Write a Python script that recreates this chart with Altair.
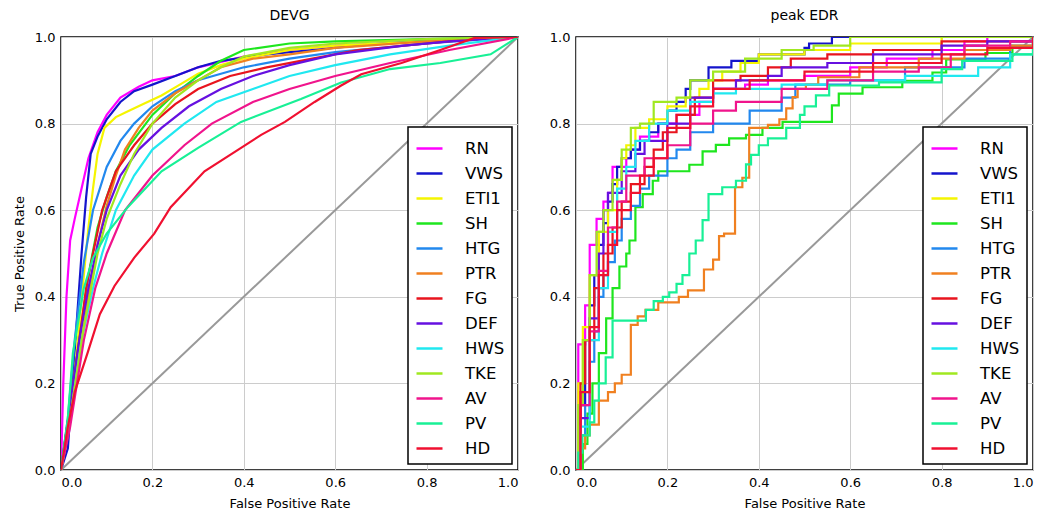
import altair as alt
import pandas as pd

SERIES = ["RN", "VWS", "ETI1", "SH", "HTG", "PTR", "FG", "DEF", "HWS", "TKE", "AV", "PV", "HD"]
COLORS = ["#ff00ff", "#1414cc", "#f5f500", "#1ee61e", "#2288ee", "#f08020", "#e8141e",
          "#6610e0", "#20e8f0", "#a0e820", "#f0148c", "#18f096", "#f01030"]
TICKS = [0.0, 0.2, 0.4, 0.6, 0.8, 1.0]

# ---- DEVG panel: (false positive rate, true positive rate) ----
DEVG_RN = [(0, 0), (0.005, 0.2), (0.012, 0.4), (0.02, 0.53), (0.03, 0.58), (0.045, 0.65), (0.06, 0.72), (0.08, 0.78), (0.1, 0.82), (0.13, 0.86), (0.17, 0.885), (0.2, 0.9), (0.25, 0.91), (0.3, 0.93), (0.4, 0.955), (0.5, 0.97), (0.6, 0.98), (0.7, 0.985), (0.8, 0.99), (0.9, 0.995), (1, 1)]
DEVG_VWS = [(0, 0), (0.015, 0.05), (0.025, 0.2), (0.035, 0.35), (0.045, 0.5), (0.055, 0.63), (0.065, 0.73), (0.08, 0.77), (0.1, 0.81), (0.13, 0.85), (0.16, 0.875), (0.2, 0.89), (0.25, 0.91), (0.3, 0.93), (0.35, 0.945), (0.45, 0.96), (0.55, 0.97), (0.7, 0.985), (0.85, 0.995), (1, 1)]
DEVG_ETI1 = [(0, 0), (0.02, 0.12), (0.035, 0.28), (0.05, 0.45), (0.06, 0.56), (0.07, 0.65), (0.08, 0.73), (0.095, 0.79), (0.12, 0.815), (0.15, 0.83), (0.18, 0.845), (0.22, 0.865), (0.26, 0.89), (0.3, 0.915), (0.35, 0.935), (0.4, 0.95), (0.5, 0.97), (0.6, 0.98), (0.8, 0.99), (1, 1)]
DEVG_SH = [(0, 0), (0.02, 0.15), (0.04, 0.3), (0.06, 0.45), (0.08, 0.56), (0.1, 0.63), (0.12, 0.69), (0.15, 0.75), (0.2, 0.82), (0.25, 0.87), (0.3, 0.91), (0.35, 0.945), (0.4, 0.97), (0.5, 0.985), (0.6, 0.99), (0.8, 0.995), (1, 1)]
DEVG_HTG = [(0, 0), (0.015, 0.12), (0.03, 0.3), (0.05, 0.48), (0.07, 0.6), (0.1, 0.7), (0.13, 0.76), (0.16, 0.8), (0.2, 0.84), (0.25, 0.875), (0.3, 0.9), (0.35, 0.915), (0.4, 0.93), (0.5, 0.95), (0.6, 0.965), (0.7, 0.975), (0.8, 0.985), (0.9, 0.993), (1, 1)]
DEVG_PTR = [(0, 0), (0.015, 0.08), (0.03, 0.2), (0.045, 0.3), (0.06, 0.4), (0.08, 0.52), (0.1, 0.61), (0.12, 0.68), (0.14, 0.74), (0.17, 0.79), (0.2, 0.83), (0.25, 0.87), (0.3, 0.9), (0.35, 0.93), (0.42, 0.95), (0.5, 0.96), (0.6, 0.975), (0.8, 0.99), (1, 1)]
DEVG_FG = [(0, 0), (0.02, 0.15), (0.04, 0.3), (0.055, 0.42), (0.07, 0.5), (0.09, 0.6), (0.12, 0.69), (0.16, 0.75), (0.2, 0.8), (0.25, 0.845), (0.3, 0.88), (0.37, 0.91), (0.45, 0.93), (0.55, 0.95), (0.65, 0.97), (0.8, 0.985), (0.9, 0.995), (1, 1)]
DEVG_DEF = [(0, 0), (0.02, 0.15), (0.04, 0.3), (0.06, 0.42), (0.08, 0.52), (0.1, 0.6), (0.13, 0.68), (0.17, 0.74), (0.22, 0.79), (0.28, 0.84), (0.35, 0.88), (0.42, 0.91), (0.5, 0.935), (0.6, 0.96), (0.75, 0.98), (0.85, 0.99), (1, 1)]
DEVG_HWS = [(0, 0), (0.02, 0.12), (0.045, 0.3), (0.07, 0.42), (0.09, 0.5), (0.12, 0.6), (0.16, 0.68), (0.2, 0.74), (0.27, 0.8), (0.34, 0.85), (0.42, 0.88), (0.5, 0.91), (0.6, 0.935), (0.72, 0.96), (0.85, 0.98), (1, 1)]
DEVG_TKE = [(0, 0), (0.02, 0.12), (0.05, 0.33), (0.08, 0.5), (0.1, 0.58), (0.13, 0.66), (0.16, 0.73), (0.2, 0.8), (0.25, 0.86), (0.3, 0.9), (0.35, 0.93), (0.4, 0.955), (0.5, 0.975), (0.6, 0.985), (0.8, 0.995), (1, 1)]
DEVG_AV = [(0, 0), (0.02, 0.1), (0.05, 0.3), (0.075, 0.42), (0.1, 0.5), (0.14, 0.6), (0.2, 0.68), (0.27, 0.75), (0.33, 0.8), (0.42, 0.85), (0.5, 0.88), (0.6, 0.91), (0.72, 0.94), (0.85, 0.97), (1, 1)]
DEVG_PV = [(0, 0), (0.015, 0.12), (0.026, 0.27), (0.05, 0.42), (0.07, 0.49), (0.1, 0.546), (0.146, 0.607), (0.22, 0.69), (0.3, 0.744), (0.394, 0.804), (0.525, 0.857), (0.613, 0.895), (0.72, 0.926), (0.83, 0.94), (0.94, 0.96), (1, 1)]
DEVG_HD = [(0, 0), (0.015, 0.1), (0.03, 0.18), (0.058, 0.27), (0.085, 0.36), (0.117, 0.425), (0.16, 0.49), (0.204, 0.546), (0.24, 0.607), (0.314, 0.69), (0.394, 0.744), (0.438, 0.774), (0.49, 0.804), (0.555, 0.85), (0.613, 0.888), (0.657, 0.914), (0.745, 0.94), (0.83, 0.97), (0.905, 0.998), (1, 1)]

# ---- peak EDR panel: staircase points (fpr where the step happens, tpr after it) ----
EDR_RN = [(0, 0), (0.005, 0.29), (0.02, 0.38), (0.03, 0.52), (0.045, 0.58), (0.06, 0.62), (0.07, 0.64), (0.08, 0.7), (0.11, 0.72), (0.12, 0.74), (0.14, 0.77), (0.18, 0.8), (0.22, 0.82), (0.27, 0.85), (0.3, 0.88), (0.37, 0.89), (0.42, 0.9), (0.5, 0.91), (0.6, 0.93), (0.68, 0.95), (0.78, 0.97), (0.85, 0.99), (0.9, 1.0), (1, 1)]
EDR_VWS = [(0, 0), (0.01, 0.15), (0.02, 0.3), (0.03, 0.38), (0.04, 0.45), (0.05, 0.52), (0.06, 0.57), (0.07, 0.62), (0.08, 0.66), (0.09, 0.7), (0.1, 0.72), (0.12, 0.74), (0.14, 0.76), (0.16, 0.78), (0.18, 0.8), (0.2, 0.83), (0.22, 0.85), (0.24, 0.88), (0.25, 0.9), (0.29, 0.93), (0.34, 0.945), (0.4, 0.96), (0.5, 0.975), (0.51, 0.985), (0.56, 1.0), (1, 1)]
EDR_ETI1 = [(0, 0), (0.005, 0.2), (0.015, 0.33), (0.03, 0.45), (0.05, 0.55), (0.07, 0.6), (0.09, 0.67), (0.1, 0.72), (0.11, 0.75), (0.13, 0.79), (0.16, 0.81), (0.2, 0.84), (0.24, 0.86), (0.27, 0.88), (0.29, 0.9), (0.32, 0.92), (0.36, 0.94), (0.4, 0.96), (0.5, 0.97), (0.6, 0.985), (0.8, 1.0), (1, 1)]
EDR_SH = [(0, 0), (0.015, 0.06), (0.025, 0.13), (0.036, 0.2), (0.05, 0.27), (0.066, 0.35), (0.08, 0.42), (0.095, 0.47), (0.11, 0.5), (0.117, 0.53), (0.13, 0.607), (0.146, 0.637), (0.168, 0.668), (0.18, 0.69), (0.248, 0.705), (0.277, 0.736), (0.306, 0.751), (0.335, 0.766), (0.372, 0.774), (0.408, 0.79), (0.452, 0.804), (0.56, 0.842), (0.575, 0.869), (0.627, 0.884), (0.714, 0.899), (0.78, 0.918), (0.81, 0.948), (0.896, 0.963), (0.955, 0.979), (1, 1)]
EDR_HTG = [(0, 0), (0.01, 0.08), (0.02, 0.15), (0.03, 0.25), (0.04, 0.32), (0.05, 0.4), (0.06, 0.45), (0.07, 0.48), (0.085, 0.53), (0.1, 0.58), (0.12, 0.61), (0.14, 0.65), (0.16, 0.68), (0.2, 0.72), (0.22, 0.74), (0.25, 0.78), (0.3, 0.8), (0.38, 0.83), (0.45, 0.86), (0.48, 0.89), (0.6, 0.9), (0.72, 0.93), (0.85, 0.95), (0.95, 0.98), (1, 1)]
EDR_PTR = [(0, 0), (0.01, 0.05), (0.02, 0.08), (0.03, 0.105), (0.05, 0.16), (0.07, 0.18), (0.085, 0.2), (0.1, 0.22), (0.12, 0.335), (0.135, 0.355), (0.152, 0.37), (0.18, 0.387), (0.225, 0.4), (0.245, 0.415), (0.28, 0.463), (0.3, 0.486), (0.313, 0.54), (0.324, 0.546), (0.348, 0.653), (0.364, 0.675), (0.379, 0.79), (0.42, 0.797), (0.445, 0.81), (0.46, 0.835), (0.474, 0.861), (0.485, 0.88), (0.503, 0.89), (0.53, 0.907), (0.62, 0.93), (0.75, 0.95), (0.85, 0.97), (0.95, 0.98), (1, 1)]
EDR_FG = [(0, 0), (0.01, 0.2), (0.02, 0.3), (0.04, 0.42), (0.06, 0.5), (0.08, 0.56), (0.1, 0.62), (0.12, 0.66), (0.15, 0.7), (0.17, 0.74), (0.19, 0.78), (0.22, 0.82), (0.26, 0.86), (0.3, 0.9), (0.36, 0.91), (0.42, 0.93), (0.47, 0.95), (0.55, 0.96), (0.65, 0.97), (0.8, 0.99), (1, 1)]
EDR_DEF = [(0, 0), (0.01, 0.12), (0.03, 0.35), (0.05, 0.5), (0.06, 0.6), (0.07, 0.64), (0.1, 0.69), (0.13, 0.73), (0.15, 0.76), (0.2, 0.8), (0.25, 0.86), (0.3, 0.88), (0.35, 0.9), (0.42, 0.91), (0.45, 0.93), (0.55, 0.94), (0.65, 0.96), (0.8, 0.98), (0.9, 0.99), (1, 1)]
EDR_HWS = [(0, 0), (0.01, 0.1), (0.03, 0.3), (0.05, 0.42), (0.07, 0.55), (0.09, 0.65), (0.11, 0.7), (0.13, 0.76), (0.16, 0.8), (0.2, 0.83), (0.25, 0.85), (0.3, 0.87), (0.35, 0.88), (0.45, 0.89), (0.55, 0.9), (0.72, 0.91), (0.88, 0.93), (0.95, 0.96), (1, 1)]
EDR_TKE = [(0, 0), (0.005, 0.15), (0.015, 0.3), (0.03, 0.45), (0.045, 0.55), (0.06, 0.6), (0.08, 0.67), (0.1, 0.74), (0.12, 0.79), (0.14, 0.8), (0.17, 0.85), (0.22, 0.86), (0.25, 0.9), (0.3, 0.92), (0.37, 0.95), (0.45, 0.97), (0.52, 0.98), (0.6, 1.0), (1, 1)]
EDR_AV = [(0, 0), (0.01, 0.15), (0.03, 0.32), (0.05, 0.46), (0.07, 0.56), (0.09, 0.62), (0.11, 0.68), (0.15, 0.72), (0.2, 0.75), (0.25, 0.8), (0.3, 0.83), (0.35, 0.85), (0.45, 0.88), (0.55, 0.9), (0.65, 0.92), (0.75, 0.93), (0.82, 0.96), (0.85, 0.98), (0.95, 0.99), (1, 1)]
EDR_PV = [(0, 0), (0.005, 0.04), (0.014, 0.08), (0.03, 0.11), (0.04, 0.16), (0.05, 0.2), (0.065, 0.26), (0.08, 0.345), (0.153, 0.37), (0.17, 0.39), (0.19, 0.4), (0.204, 0.41), (0.22, 0.43), (0.233, 0.45), (0.248, 0.5), (0.262, 0.53), (0.277, 0.577), (0.29, 0.637), (0.32, 0.653), (0.35, 0.668), (0.372, 0.706), (0.383, 0.728), (0.4, 0.75), (0.42, 0.766), (0.46, 0.79), (0.49, 0.82), (0.5, 0.84), (0.525, 0.865), (0.554, 0.888), (0.663, 0.895), (0.8, 0.926), (0.845, 0.945), (0.955, 0.96), (1, 1)]
EDR_HD = [(0, 0), (0.01, 0.18), (0.03, 0.33), (0.05, 0.45), (0.07, 0.52), (0.09, 0.6), (0.12, 0.64), (0.14, 0.68), (0.17, 0.72), (0.2, 0.79), (0.25, 0.84), (0.3, 0.88), (0.38, 0.9), (0.5, 0.92), (0.65, 0.94), (0.8, 0.96), (0.9, 0.975), (1, 1)]

DIAG = [(0, 0), (1, 1)]

DEVG = {"RN": DEVG_RN, "VWS": DEVG_VWS, "ETI1": DEVG_ETI1, "SH": DEVG_SH, "HTG": DEVG_HTG,
        "PTR": DEVG_PTR, "FG": DEVG_FG, "DEF": DEVG_DEF, "HWS": DEVG_HWS, "TKE": DEVG_TKE,
        "AV": DEVG_AV, "PV": DEVG_PV, "HD": DEVG_HD}
EDR = {"RN": EDR_RN, "VWS": EDR_VWS, "ETI1": EDR_ETI1, "SH": EDR_SH, "HTG": EDR_HTG,
       "PTR": EDR_PTR, "FG": EDR_FG, "DEF": EDR_DEF, "HWS": EDR_HWS, "TKE": EDR_TKE,
       "AV": EDR_AV, "PV": EDR_PV, "HD": EDR_HD}


def table(curves):
    rows = []
    for k, name in enumerate(SERIES):
        for i, (x, y) in enumerate(curves[name]):
            rows.append({"series": name, "k": k, "fpr": x, "tpr": y, "i": i})
    return pd.DataFrame(rows)


diag_df = pd.DataFrame([{"fpr": x, "tpr": y} for x, y in DIAG])

PW, PH = 457, 433


def panel(curves, title, step, ytitle):
    x = alt.X("fpr:Q", scale=alt.Scale(domain=[0, 1], nice=False, zero=False),
              axis=alt.Axis(title="False Positive Rate", values=TICKS, format=".1f"))
    y = alt.Y("tpr:Q", scale=alt.Scale(domain=[0, 1], nice=False, zero=False),
              axis=alt.Axis(title=ytitle, values=TICKS, format=".1f"))
    diag = alt.Chart(diag_df).mark_line(color="#999999", strokeWidth=2).encode(x=x, y=y)
    lines = alt.Chart(table(curves)).mark_line(
        strokeWidth=2.2, interpolate="step-after" if step else "linear", clip=True
    ).encode(
        x=x, y=y,
        color=alt.Color("series:N", scale=alt.Scale(domain=SERIES, range=COLORS),
                        sort=SERIES,
                        legend=alt.Legend(title=None, orient="bottom-right", offset=6)),
        order="i:Q",
    )
    return alt.layer(diag, lines).properties(
        width=PW, height=PH,
        title=alt.TitleParams(title, fontSize=14, fontWeight="normal",
                              font="DejaVu Sans", color="black", offset=8))


left = panel(DEVG, "DEVG", False, "True Positive Rate")
right = panel(EDR, "peak EDR", True, None)

chart = alt.hconcat(left, right, spacing=25).resolve_scale(color="independent").resolve_legend(
    color="independent"
).properties(
    padding={"left": 4, "top": 0, "right": 2, "bottom": 2}
).configure_view(
    stroke="black", strokeWidth=1.5
).configure_axis(
    labelFont="DejaVu Sans", labelFontSize=13, labelColor="black",
    titleFont="DejaVu Sans", titleFontSize=13, titleFontWeight="normal", titleColor="black",
    gridColor="#cccccc", gridWidth=1, ticks=False, domain=False, labelPadding=6,
    titlePadding=8
).configure_legend(
    strokeColor="black", fillColor="white", strokeWidth=1.5, padding=7,
    labelFont="DejaVu Sans", labelFontSize=16.5, labelColor="black",
    symbolType="stroke", symbolSize=676, symbolStrokeWidth=2.5,
    rowPadding=2, labelOffset=21, cornerRadius=0
)

chart.save("out.html", embed_options={"renderer": "svg", "actions": False})
